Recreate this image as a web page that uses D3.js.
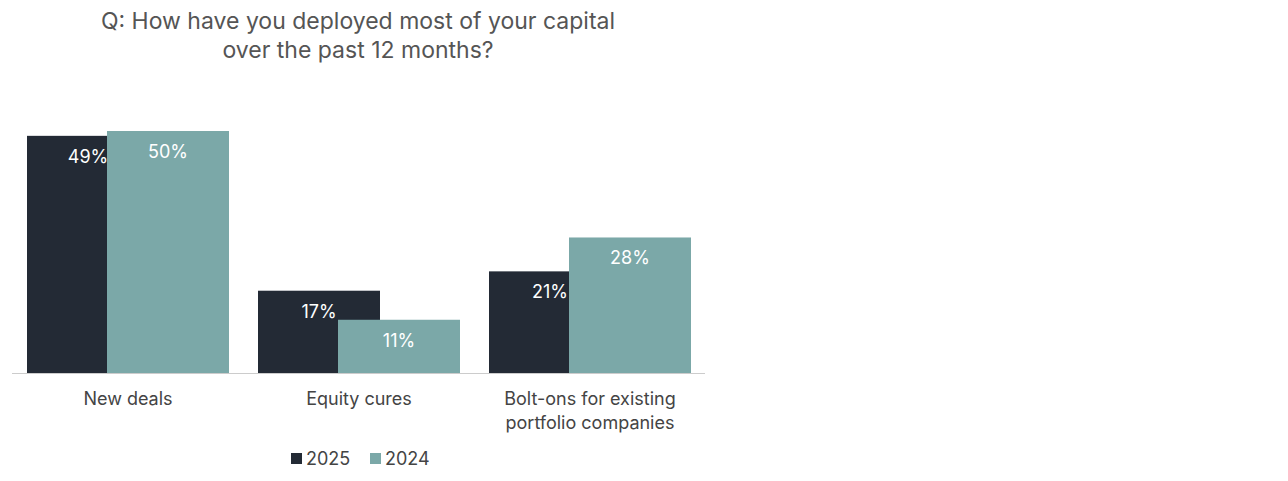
<!DOCTYPE html><html><head><meta charset="utf-8"><script src="https://cdn.jsdelivr.net/npm/d3@7"></script>
<style>body{margin:0;background:#fff}</style></head><body><svg id="c" width="1288" height="481"></svg><script>
const categories=[["New deals"],["Equity cures"],["Bolt-ons for existing","portfolio companies"]];
const series=["2025","2024"];
const values2025=[49,17,21];
const values2024=[50,11,28];
const colors=["#232a35","#7ba8a8"];
const svg=d3.select("#c"),font="Inter, 'Open Sans', sans-serif";
const x=d3.scaleBand().domain(d3.range(3)).range([12,705]).paddingInner(0.0).paddingOuter(0.0);
const y=d3.scaleLinear().domain([0,50]).range([373,131]);
const bw=122,off=80;
const title=["Q: How have you deployed most of your capital","over the past 12 months?"];
svg.selectAll(".t").data(title).join("text").attr("x",358).attr("y",(d,i)=>29+i*29).attr("text-anchor","middle").attr("font-family",font).attr("font-size",23).attr("fill","#555").text(d=>d);
[values2025,values2024].forEach((vals,s)=>{
  vals.forEach((v,i)=>{
    const x0=x(i)+15+s*off;
    svg.append("rect").attr("x",x0).attr("y",y(v)).attr("width",bw).attr("height",y(0)-y(v)).attr("fill",colors[s]);
    svg.append("text").attr("x",x0+bw/2).attr("y",y(v)+27).attr("text-anchor","middle").attr("font-family",font).attr("font-size",18).attr("fill","#fff").text(v+"%");
  });
});
svg.append("line").attr("x1",12).attr("x2",705).attr("y1",373.5).attr("y2",373.5).attr("stroke","#ccc");
categories.forEach((c,i)=>{
  c.forEach((l,j)=>svg.append("text").attr("x",x(i)+15+(bw+off)/2).attr("y",405+j*24).attr("text-anchor","middle").attr("font-family",font).attr("font-size",18).attr("fill","#444").text(l));
});
const lx=[291,370];
series.forEach((s,i)=>{
  svg.append("rect").attr("x",lx[i]).attr("y",453).attr("width",11).attr("height",11).attr("fill",colors[i]);
  svg.append("text").attr("x",lx[i]+15).attr("y",465).attr("font-family",font).attr("font-size",18).attr("fill","#444").text(s);
});
</script></body></html>
